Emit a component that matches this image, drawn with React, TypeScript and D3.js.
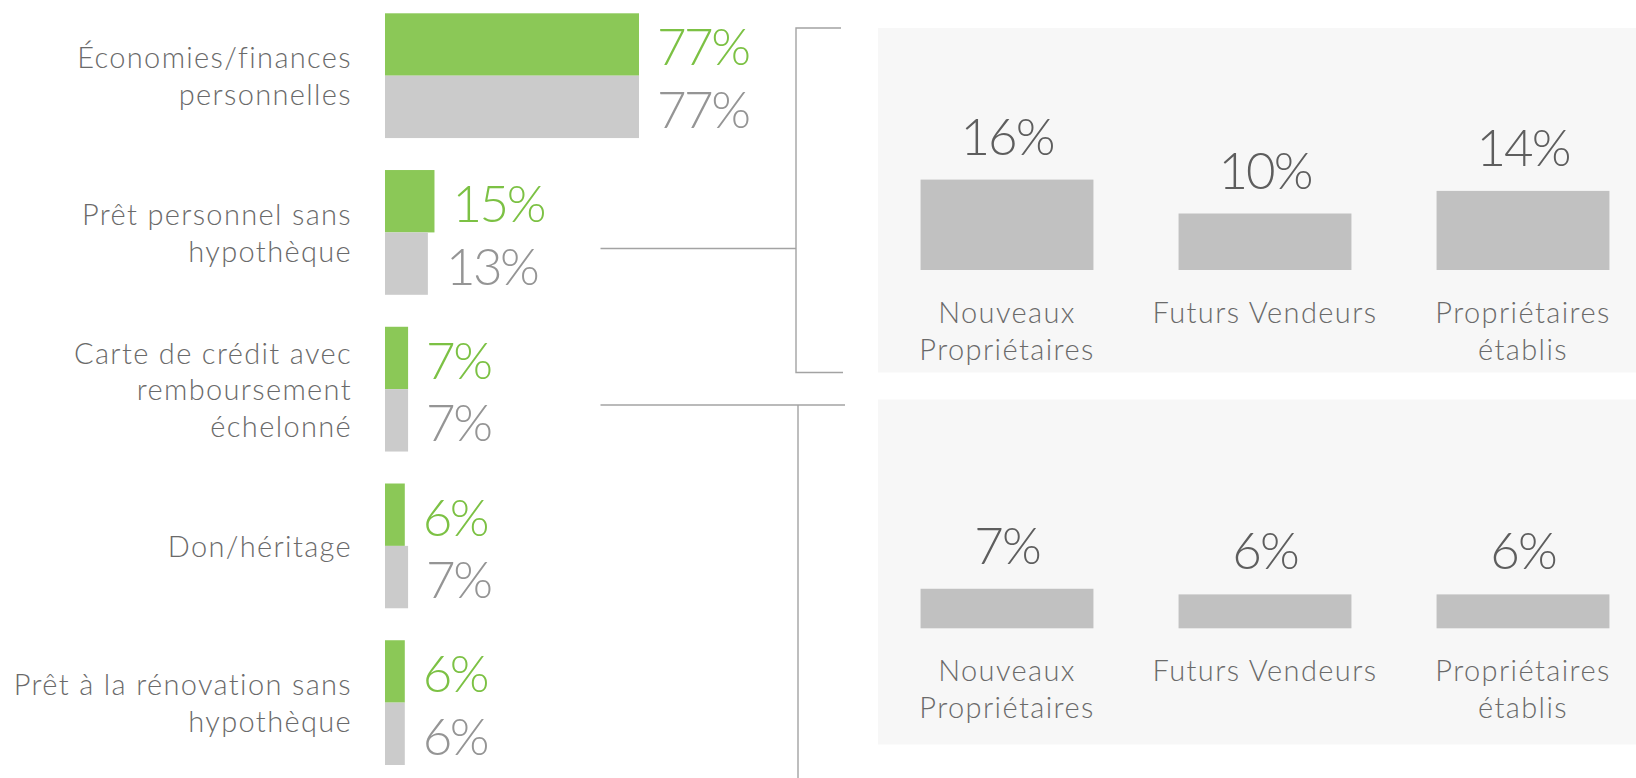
import React, { useEffect, useRef } from "react";
import * as d3 from "d3";

// left chart: sources of funds, two series per category
const categories = [
  ["Économies/finances", "personnelles"],
  ["Prêt personnel sans", "hypothèque"],
  ["Carte de crédit avec", "remboursement", "échelonné"],
  ["Don/héritage"],
  ["Prêt à la rénovation sans", "hypothèque"],
];
const seriesNames = ["current", "previous"];
const currentValues = [77, 15, 7, 6, 6];
const previousValues = [77, 13, 7, 7, 6];

// right panels: breakdown by owner group
const groups = [
  ["Nouveaux", "Propriétaires"],
  ["Futurs Vendeurs"],
  ["Propriétaires", "établis"],
];
const panelTopValues = [16, 10, 14];
const panelBottomValues = [7, 6, 6];

const WIDTH = 1636;
const HEIGHT = 778;
const GREEN = "#8bc857";
const GREEN_TEXT = "#7cc144";
const GRAY_BAR = "#cbcbcb";
const GRAY_TEXT = "#959595";
const LABEL = "#6a6a6a";
const LINE = "#a3a3a3";

const App = () => {
  const svgRef = useRef(null);

  useEffect(() => {
    const svg = d3.select(svgRef.current);
    svg.selectAll("*").remove();

    // ---- left grouped horizontal bars
    const keys = categories.map((c) => c.join(" "));
    const y = d3.scaleBand().domain(keys).range([13.3, 765]).paddingInner(0.204).paddingOuter(0);
    const ySub = d3.scaleBand().domain(seriesNames).range([0, y.bandwidth()]);
    const x = d3.scaleLinear().domain([0, 77]).range([385, 639]);

    const rows = keys.map((k, i) => ({
      key: k,
      lines: categories[i],
      values: [currentValues[i], previousValues[i]],
    }));

    const left = svg.append("g");
    const row = left
      .selectAll("g.row")
      .data(rows)
      .join("g")
      .attr("class", "row")
      .attr("transform", (d) => `translate(0,${y(d.key)})`);

    row
      .selectAll("rect")
      .data((d) => d.values.map((v, j) => ({ v, s: seriesNames[j] })))
      .join("rect")
      .attr("x", x(0))
      .attr("y", (d) => ySub(d.s))
      .attr("width", (d) => x(d.v) - x(0))
      .attr("height", ySub.bandwidth())
      .attr("fill", (d) => (d.s === "current" ? GREEN : GRAY_BAR));

    row
      .selectAll("text.val")
      .data((d) => d.values.map((v, j) => ({ v, s: seriesNames[j] })))
      .join("text")
      .attr("class", "val")
      .attr("x", (d) => x(d.v) + 18)
      .attr("y", (d) => ySub(d.s) + ySub.bandwidth() / 2 + 21)
      .attr("font-family", "Lato")
      .attr("font-weight", 300)
      .attr("font-size", 51)
      .attr("letter-spacing", -2.5)
      .attr("fill", (d) => (d.s === "current" ? GREEN_TEXT : GRAY_TEXT))
      .text((d) => `${d.v}%`);

    row
      .append("text")
      .attr("text-anchor", "end")
      .attr("font-family", "Lato")
      .attr("font-weight", 300)
      .attr("font-size", 29)
      .attr("letter-spacing", 1.35)
      .attr("fill", LABEL)
      .selectAll("tspan")
      .data((d) => d.lines.map((t, i) => ({ t, i, n: d.lines.length })))
      .join("tspan")
      .attr("x", 352)
      .attr("y", (d) => y.bandwidth() / 2 + 11 + (d.i - (d.n - 1) / 2) * 36.5)
      .text((d) => d.t);

    // ---- connector lines / brackets
    const lines = [
      [[600.5, 248.5], [796, 248.5]],
      [[841, 28], [796, 28], [796, 372.5], [843, 372.5]],
      [[600.5, 405], [845, 405]],
      [[798, 405], [798, HEIGHT]],
    ];
    svg
      .append("g")
      .selectAll("path")
      .data(lines)
      .join("path")
      .attr("d", (d) => d3.line()(d))
      .attr("fill", "none")
      .attr("stroke", LINE)
      .attr("stroke-width", 1.4);

    // ---- right panels
    const gx = d3
      .scaleBand()
      .domain(groups.map((g) => g.join(" ")))
      .range([878, 1652])
      .paddingInner(0.33)
      .paddingOuter(0.165);
    const h = d3.scaleLinear().domain([0, 16]).range([0, 90.4]);

    const panels = [
      { top: 28, bottom: 372.5, base: 270, values: panelTopValues },
      { top: 399.5, bottom: 744.5, base: 628.3, values: panelBottomValues },
    ];

    panels.forEach((p) => {
      const g = svg.append("g");
      g.append("rect")
        .attr("x", 878)
        .attr("y", p.top)
        .attr("width", WIDTH - 878)
        .attr("height", p.bottom - p.top)
        .attr("fill", "#f7f7f7");

      const items = groups.map((lines, i) => ({ key: lines.join(" "), lines, v: p.values[i] }));

      g.selectAll("rect.bar")
        .data(items)
        .join("rect")
        .attr("class", "bar")
        .attr("x", (d) => gx(d.key))
        .attr("y", (d) => p.base - h(d.v))
        .attr("width", gx.bandwidth())
        .attr("height", (d) => h(d.v))
        .attr("fill", "#c1c1c1");

      g.selectAll("text.val")
        .data(items)
        .join("text")
        .attr("class", "val")
        .attr("x", (d) => gx(d.key) + gx.bandwidth() / 2)
        .attr("y", (d) => p.base - h(d.v) - 25)
        .attr("text-anchor", "middle")
        .attr("font-family", "Lato")
        .attr("font-weight", 300)
        .attr("font-size", 51)
        .attr("letter-spacing", -2)
        .attr("fill", "#5e5e5e")
        .text((d) => `${d.v}%`);

      g.selectAll("text.cat")
        .data(items)
        .join("text")
        .attr("class", "cat")
        .attr("text-anchor", "middle")
        .attr("font-family", "Lato")
        .attr("font-weight", 300)
        .attr("font-size", 29)
        .attr("letter-spacing", 1.4)
        .attr("fill", LABEL)
        .selectAll("tspan")
        .data((d) => d.lines.map((t, i) => ({ t, i, cx: gx(d.key) + gx.bandwidth() / 2 })))
        .join("tspan")
        .attr("x", (d) => d.cx)
        .attr("y", (d) => p.base + 53 + d.i * 36.6)
        .text((d) => d.t);
    });
  }, []);

  return (
    <svg
      ref={svgRef}
      width={WIDTH}
      height={HEIGHT}
      style={{ position: "absolute", left: 0, top: 0, background: "#fff" }}
    />
  );
};

export default App;
